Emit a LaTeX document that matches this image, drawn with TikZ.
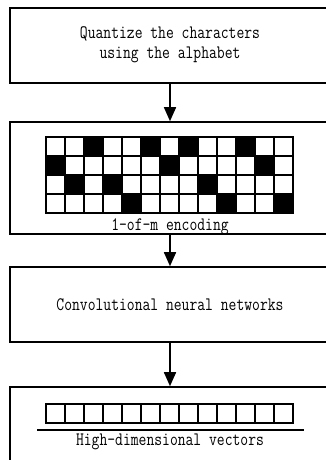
\documentclass[tikz,border=0pt]{standalone}
\usepackage{fontspec}
\newfontfamily\refmono[FakeStretch=0.8]{Latin Modern Mono}
\usetikzlibrary{arrows.meta}
\begin{document}
\begin{tikzpicture}[x=1pt,y=-1pt,
  stagebox/.style={draw,line width=1.6pt,minimum width=320pt,inner sep=0pt},
  flowarrow/.style={line width=1.6pt,-{Triangle[width=12pt,length=14pt]}},
  lbl/.style={font=\refmono\fontsize{19}{20}\selectfont,inner sep=0pt,align=center},
  cell/.style={line width=1.3pt}]
\useasboundingbox (0,0) rectangle (326,460);
\clip (0,0) rectangle (326,460);
\fill[white] (0,0) rectangle (326,460);
% boxes
\node[stagebox,minimum height=75pt] (b1) at (170,45.5) {};
\node[stagebox,minimum height=112pt] (b2) at (170,178) {};
\node[stagebox,minimum height=75pt] (b3) at (170,304.5) {};
\node[stagebox,minimum height=112pt] (b4) at (170,443) {};
% box 1 text
\node[lbl] (t1) at (170,45) {Quantize the characters\\using the alphabet};
% grid
\foreach \c/\b in {1/2,2/3,3/1,4/3,5/4,6/1,7/2,8/1,9/3,10/4,11/1,12/2,13/4}{
  \foreach \r in {1,...,4}{
    \pgfmathsetmacro{\xx}{46+19*(\c-1)}
    \pgfmathsetmacro{\yy}{137+19*(\r-1)}
    \ifnum\r=\b
      \filldraw[cell] (\xx,\yy) rectangle ++(19,19);
    \else
      \draw[cell] (\xx,\yy) rectangle ++(19,19);
    \fi
  }
}
\node[lbl] (t2) at (170,227) {1-of-m encoding};
% box 3 text
\node[lbl] (t3) at (170,305) {Convolutional neural networks};
% vector
\foreach \c in {1,...,13}{
  \pgfmathsetmacro{\xx}{46+19*(\c-1)}
  \draw[cell] (\xx,404) rectangle ++(19,19);
}
\coordinate (ul) at (37,430);
\coordinate (ur) at (304,430);
\draw[line width=1.2pt] (ul) -- (ur);
\node[lbl] (t4) at (170,442) {High-dimensional vectors};
% arrows
\draw[flowarrow] (b1.south) -- (b2.north);
\draw[flowarrow] (b2.south) -- (b3.north);
\draw[flowarrow] (b3.south) -- (b4.north);
\end{tikzpicture}
\end{document}
